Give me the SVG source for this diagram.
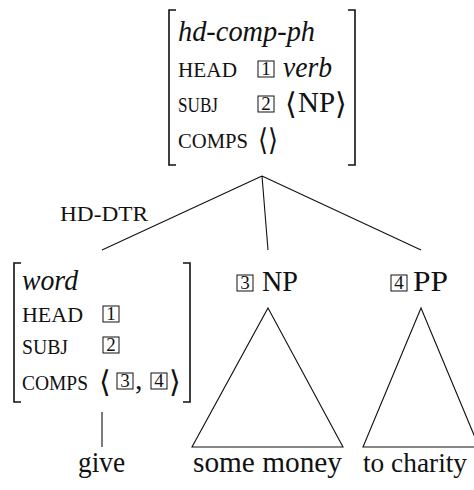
<svg xmlns="http://www.w3.org/2000/svg" width="474" height="490" viewBox="0 0 474 490" font-family="'Liberation Serif', 'Times New Roman', serif">
<style>
text{font-family:'Liberation Serif','Times New Roman',serif;fill:#111}
.it{font-style:italic;font-size:30px}
.sc{font-size:22px}
.rm{font-size:30px}
.num{font-size:19px;text-anchor:middle}
.ang{font-family:'DejaVu Serif','DejaVu Sans',serif;font-size:30px}
.box{fill:none;stroke:#111;stroke-width:1}
.br{fill:none;stroke:#111;stroke-width:1.6}
.ln{fill:none;stroke:#111;stroke-width:1.1}
</style>
<g id="mother">
<path class="br" d="M176,10 H169 V165 H176 M348,10 H355 V165 H348"/>
<text class="it" x="178" y="41" textLength="137" lengthAdjust="spacingAndGlyphs">hd-comp-ph</text>
<text class="sc" x="178" y="77" textLength="59" lengthAdjust="spacingAndGlyphs">HEAD</text>
<rect class="box" x="258" y="61" width="16" height="16"/><text class="num" x="266" y="75">1</text>
<text class="it" x="283" y="77" textLength="49" lengthAdjust="spacingAndGlyphs">verb</text>
<text class="sc" x="178" y="112" textLength="40" lengthAdjust="spacingAndGlyphs">SUBJ</text>
<rect class="box" x="258" y="96" width="16" height="16"/><text class="num" x="266" y="110">2</text>
<text class="ang" x="285" y="114">⟨</text>
<text class="rm" x="298" y="112" textLength="37" lengthAdjust="spacingAndGlyphs">NP</text>
<text class="ang" x="335" y="114">⟩</text>
<text class="sc" x="178" y="148" textLength="70" lengthAdjust="spacingAndGlyphs">COMPS</text>
<text class="ang" x="258" y="150" textLength="20" lengthAdjust="spacingAndGlyphs">⟨⟩</text>
</g>
<g id="head-dtr">
<path class="br" d="M21,263 H14 V402 H21 M183,263 H190 V402 H183"/>
<text class="it" x="22" y="290" textLength="56" lengthAdjust="spacingAndGlyphs">word</text>
<text class="sc" x="22" y="322" textLength="61" lengthAdjust="spacingAndGlyphs">HEAD</text>
<rect class="box" x="103" y="306" width="16" height="16"/><text class="num" x="111" y="320">1</text>
<text class="sc" x="22" y="354" textLength="46" lengthAdjust="spacingAndGlyphs">SUBJ</text>
<rect class="box" x="103" y="337" width="16" height="16"/><text class="num" x="111" y="351">2</text>
<text class="sc" x="22" y="390" textLength="66" lengthAdjust="spacingAndGlyphs">COMPS</text>
<text class="ang" x="99" y="392">⟨</text>
<rect class="box" x="117" y="373" width="16" height="16"/><text class="num" x="125" y="387">3</text>
<text class="rm" x="135" y="389">,</text>
<rect class="box" x="151" y="373" width="16" height="16"/><text class="num" x="159" y="387">4</text>
<text class="ang" x="169" y="392">⟩</text>
<text class="rm" x="78" y="472" textLength="47" lengthAdjust="spacingAndGlyphs">give</text>
</g>
<g id="np">
<rect class="box" x="237" y="275" width="16" height="16"/><text class="num" x="245" y="289">3</text>
<text class="rm" x="262" y="291" textLength="36" lengthAdjust="spacingAndGlyphs">NP</text>
<path class="ln" d="M268,308 L343,447 L192,447 Z"/>
<text class="rm" x="193" y="472" textLength="149" lengthAdjust="spacingAndGlyphs">some money</text>
</g>
<g id="pp">
<rect class="box" x="391" y="275" width="16" height="16"/><text class="num" x="399" y="289">4</text>
<text class="rm" x="413" y="291" textLength="35" lengthAdjust="spacingAndGlyphs">PP</text>
<path class="ln" d="M421,308 L479,447 L363,447 Z"/>
<text class="rm" x="363" y="472" style="font-size:28px" textLength="104" lengthAdjust="spacingAndGlyphs">to charity</text>
</g>
<g id="connectors">
<path class="ln" d="M262,176 L102,250 M262,176 L268,250 M262,176 L421,250 M102,412 L102,447"/>
<text class="sc" x="60" y="221" textLength="88" lengthAdjust="spacingAndGlyphs">HD-DTR</text>
</g>
</svg>
